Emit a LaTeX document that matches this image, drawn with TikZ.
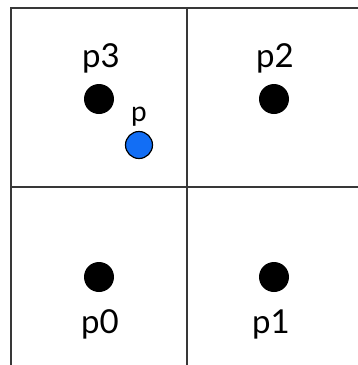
\documentclass[tikz,border=0pt]{standalone}
\usepackage{fontspec}
\setmainfont{Lato}
\begin{document}
\begin{tikzpicture}[x=1pt,y=-1pt,
  gridline/.style={line width=1.8pt,draw=black!78},
  sample/.style={circle,fill=black,inner sep=0pt,minimum size=30pt},
  query/.style={circle,fill={rgb,255:red,18;green,110;blue,245},draw=black,line width=1.2pt,inner sep=0pt,minimum size=27pt},
  lbl/.style={font=\fontsize{33}{37}\selectfont,inner sep=0pt,anchor=base},
  smalllbl/.style={font=\fontsize{28}{32}\selectfont,inner sep=0pt,anchor=base}]
  \useasboundingbox (0,0) rectangle (358,365);
  % cell grid
  \draw[gridline] (11,365) -- (11,8) -- (358,8);
  \draw[gridline] (187,8) -- (187,365);
  \draw[gridline] (11,187) -- (358,187);
  % sample points
  \node[sample] (p3) at (99,99) {};
  \node[sample] (p2) at (274,99) {};
  \node[sample] (p0) at (99,277) {};
  \node[sample] (p1) at (274,277) {};
  \node[query] (p) at (139,145) {};
  % labels
  \node[lbl] (l3) at (101,67) {p3};
  \node[lbl] (l2) at (275,67) {p2};
  \node[lbl] (l0) at (100,333) {p0};
  \node[lbl] (l1) at (271,333) {p1};
  \node[smalllbl] (lp) at (139,121) {p};
\end{tikzpicture}
\end{document}
